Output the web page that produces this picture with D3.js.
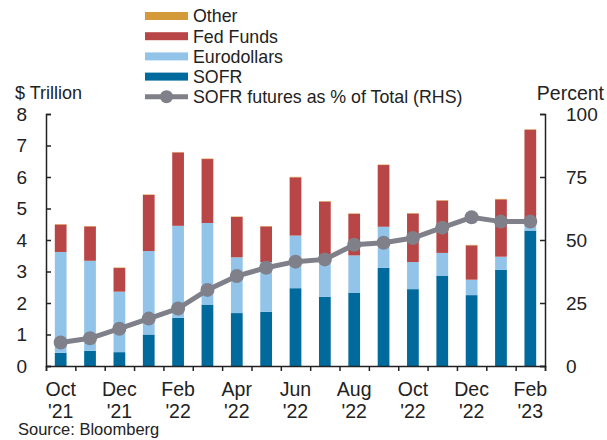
<!DOCTYPE html>
<html>
<head>
<meta charset="utf-8">
<script src="https://cdn.jsdelivr.net/npm/d3@7"></script>
<style>
  body { margin: 0; background: white; }
  svg { display: block; font-family: "Liberation Sans", Arial, sans-serif; }
</style>
</head>
<body>
<div id="container"></div>
<script>
let months = ["Oct21","Nov21","Dec21","Jan22","Feb22","Mar22","Apr22","May22","Jun22",
  "Jul22","Aug22","Sep22","Oct22","Nov22","Dec22","Jan23","Feb23"];
let sofr = [0.42,0.48,0.44,1.00,1.53,1.95,1.68,1.72,2.47,2.20,2.33,3.12,2.44,2.87,2.25,3.05,4.30];
let eurodollars = [3.20,2.86,1.92,2.65,2.92,2.59,1.77,1.58,1.67,1.20,1.18,1.30,0.86,0.72,0.49,0.42,0.20];
let fedFunds = [0.87,1.09,0.75,1.78,2.33,2.03,1.28,1.13,1.85,1.82,1.32,1.96,1.54,1.66,1.09,1.82,3.00];
let other = [0.015,0.015,0.015,0.015,0.015,0.015,0.015,0.015,0.015,0.015,0.015,0.015,0.015,0.015,0.015,0.015,0.015];
let sofrShare = [9.3,11.0,14.8,18.8,22.8,30.2,35.7,39.0,41.4,42.3,48.1,48.9,50.8,54.9,59.0,57.3,57.3];

let tickMonths = ["Oct","Dec","Feb","Apr","Jun","Aug","Oct","Dec","Feb"];
let tickYears = ["'21","'21","'22","'22","'22","'22","'22","'22","'23"];
let leftTicks = [0,1,2,3,4,5,6,7,8];
let rightTicks = [0,25,50,75,100];

let seriesNames = ["SOFR","Eurodollars","Fed Funds","Other"];
let seriesColors = ["#006a9c","#92c4ea","#b94646","#d49a3a"];
let lineColor = "#7f8089";

let w = 607;
let h = 440;
let plotLeft = 46, plotRight = 545, plotTop = 114, plotBottom = 366;

let viz = d3.select("#container")
  .append("svg")
    .attr("width", w)
    .attr("height", h)
    .style("background-color", "white");

let rows = months.map(function(m, i){
  return {month: m, "SOFR": sofr[i], "Eurodollars": eurodollars[i], "Fed Funds": fedFunds[i], "Other": other[i]};
});
let stacked = d3.stack().keys(seriesNames)(rows);

let xScale = d3.scaleBand().domain(months).range([plotLeft, plotRight]).paddingInner(0.6).paddingOuter(0.3);
let yScale = d3.scaleLinear().domain([0, 8]).range([plotBottom, plotTop]);
let y2Scale = d3.scaleLinear().domain([0, 100]).range([plotBottom, plotTop]);
let edgeScale = d3.scaleLinear().domain([0, months.length]).range([plotLeft, plotRight]);

// bars
viz.selectAll(".layer").data(stacked).enter()
  .append("g")
    .attr("fill", function(d, i){ return seriesColors[i]; })
  .selectAll("rect").data(function(d){ return d; }).enter()
  .append("rect")
    .attr("x", function(d){ return xScale(d.data.month); })
    .attr("y", function(d){ return yScale(d[1]); })
    .attr("width", xScale.bandwidth())
    .attr("height", function(d){ return yScale(d[0]) - yScale(d[1]); });

// line on RHS
let line = d3.line()
  .x(function(d, i){ return xScale(months[i]) + xScale.bandwidth() / 2; })
  .y(function(d){ return y2Scale(d); });

viz.append("path")
  .datum(sofrShare)
  .attr("d", line)
  .attr("fill", "none")
  .attr("stroke", lineColor)
  .attr("stroke-width", 5);

viz.selectAll(".dot").data(sofrShare).enter()
  .append("circle")
    .attr("cx", function(d, i){ return xScale(months[i]) + xScale.bandwidth() / 2; })
    .attr("cy", function(d){ return y2Scale(d); })
    .attr("r", 7)
    .attr("fill", lineColor);

// axes
let axisColor = "#222";

let leftAxis = viz.append("g")
  .attr("transform", "translate(" + plotLeft + ",0)")
  .call(d3.axisRight(yScale).tickValues(leftTicks).tickSize(5).tickFormat(""));
let rightAxis = viz.append("g")
  .attr("transform", "translate(" + plotRight + ",0)")
  .call(d3.axisLeft(y2Scale).tickValues(rightTicks).tickSize(5).tickFormat(""));
let bottomAxis = viz.append("g")
  .attr("transform", "translate(0," + plotBottom + ")")
  .call(d3.axisBottom(edgeScale).tickValues(d3.range(months.length + 1)).tickSize(5).tickFormat(""));

[leftAxis, rightAxis, bottomAxis].forEach(function(a){
  a.select(".domain").attr("stroke", axisColor).attr("stroke-width", 1.5);
  a.selectAll(".tick line").attr("stroke", axisColor).attr("stroke-width", 1.5);
});

// tick labels
viz.selectAll(".lt").data(leftTicks).enter()
  .append("text")
    .attr("x", 27)
    .attr("y", function(d){ return yScale(d); })
    .attr("dy", "0.36em")
    .attr("text-anchor", "end")
    .attr("fill", "#222")
    .style("font-size", "19px")
    .text(function(d){ return d; });

viz.selectAll(".rt").data(rightTicks).enter()
  .append("text")
    .attr("x", 566)
    .attr("y", function(d){ return y2Scale(d); })
    .attr("dy", "0.36em")
    .attr("fill", "#222")
    .style("font-size", "19px")
    .text(function(d){ return d; });

let xLabels = viz.selectAll(".xl").data(tickMonths).enter()
  .append("text")
    .attr("text-anchor", "middle")
    .attr("fill", "#222")
    .style("font-size", "19.5px");
xLabels.append("tspan")
    .attr("x", function(d, i){ return xScale(months[i * 2]) + xScale.bandwidth() / 2; })
    .attr("y", 396)
    .text(function(d){ return d; });
xLabels.append("tspan")
    .attr("x", function(d, i){ return xScale(months[i * 2]) + xScale.bandwidth() / 2; })
    .attr("y", 418)
    .text(function(d, i){ return tickYears[i]; });

// axis titles and source
viz.append("text").attr("x", 15).attr("y", 99).attr("fill", "#222")
  .style("font-size", "18px").text("$ Trillion");
viz.append("text").attr("x", 604).attr("y", 100).attr("fill", "#222")
  .attr("text-anchor", "end")
  .style("font-size", "19.5px").text("Percent");
viz.append("text").attr("x", 18).attr("y", 435).attr("fill", "#222")
  .style("font-size", "16.5px").text("Source: Bloomberg");

// legend
let legendNames = ["Other","Fed Funds","Eurodollars","SOFR"];
let legendColors = ["#d49a3a","#b94646","#92c4ea","#006a9c"];
let legend = viz.selectAll(".lg").data(legendNames).enter()
  .append("g")
    .attr("transform", function(d, i){ return "translate(145," + (16 + i * 20.2) + ")"; });
legend.append("rect")
    .attr("x", 0).attr("y", -4).attr("width", 43).attr("height", 8)
    .attr("fill", function(d, i){ return legendColors[i]; });
legend.append("text")
    .attr("x", 48).attr("dy", "0.36em")
    .attr("fill", "#222")
    .style("font-size", "17.8px")
    .text(function(d){ return d; });

let lineLegend = viz.append("g").attr("transform", "translate(145,96.7)");
lineLegend.append("line").attr("x1", 0).attr("x2", 43).attr("y1", 0).attr("y2", 0)
  .attr("stroke", lineColor).attr("stroke-width", 5);
lineLegend.append("circle").attr("cx", 21.5).attr("cy", 0).attr("r", 6.5).attr("fill", lineColor);
lineLegend.append("text").attr("x", 48).attr("dy", "0.36em").attr("fill", "#222")
  .style("font-size", "17.8px").text("SOFR futures as % of Total (RHS)");
</script>
</body>
</html>
